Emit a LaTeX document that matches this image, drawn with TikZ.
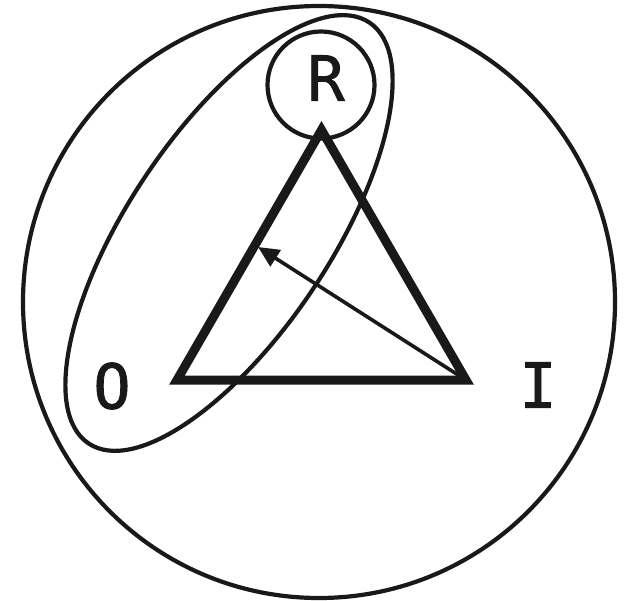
\documentclass[tikz,border=0pt]{standalone}
\usepackage{fontspec}
\newfontfamily\lblfont[FakeBold=1.3]{DejaVu Sans Mono}
\usetikzlibrary{arrows.meta}
\begin{document}
\begin{tikzpicture}[x=1pt,y=-1pt,
  thin line/.style={line width=4.2pt, draw=black!90},
  tri/.style={line width=9pt, line join=miter, draw=black!90},
  arr/.style={line width=3.6pt, draw=black!90, -{Triangle[length=21pt,width=19pt]}},
  lbl/.style={font=\lblfont\fontsize{62}{62}\selectfont, text=black!90, inner sep=0pt}]
\useasboundingbox (0,0) rectangle (628,601);
% outer circle
\node[circle, thin line, minimum size=592pt, inner sep=0pt] (outer) at (319,302) {};
% ellipse
\draw[thin line, rotate around={56.3:(229,233)}] (229,233) ellipse [x radius=253, y radius=101];
% small circle around R
\node[circle, thin line, minimum size=107pt, inner sep=0pt] (rc) at (321,85) {};
% triangle
\coordinate (vO) at (177,380);
\coordinate (vI) at (466,380);
\coordinate (vR) at (321.5,130);
\draw[tri] (vO) -- (vI) -- (vR) -- cycle;
% arrow
\coordinate (tip) at (258,247);
\draw[arr] (vI) -- (tip);
% labels
\node[lbl] (lR) at (326,78) {R};
\node[lbl] (lO) at (112,386) {O};
\node[lbl] (lI) at (538,385) {I};
\end{tikzpicture}
\end{document}
